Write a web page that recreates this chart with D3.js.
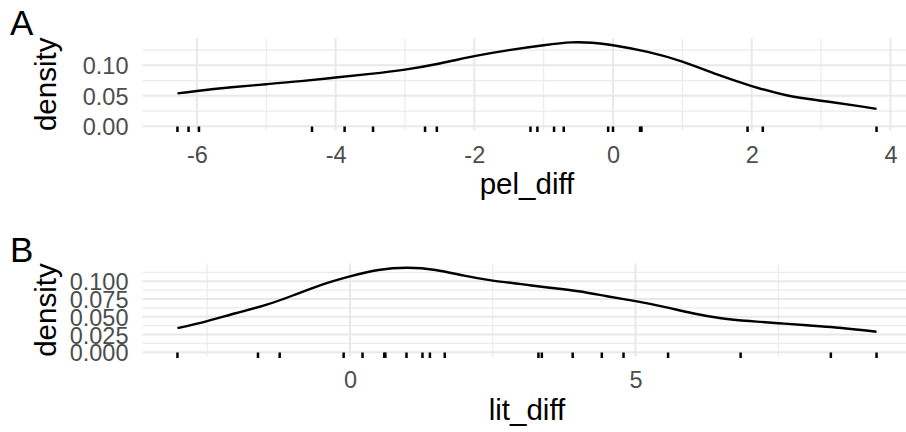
<!DOCTYPE html>
<html>
<head>
<meta charset="utf-8">
<script src="https://cdn.jsdelivr.net/npm/d3@7"></script>
<style>
  html, body { margin: 0; padding: 0; background: #fff; }
  svg { display: block; }
  text { font-family: "Liberation Sans", Arial, sans-serif; }
</style>
</head>
<body>
<svg id="chart" width="906" height="432"></svg>
<script>
// ---- Data ----
const pelRug = [-6.28, -6.12, -5.97, -4.34, -3.87, -3.46, -2.71, -2.54, -1.19, -1.09, -0.85, -0.71, -0.07, 0.00, 0.39, 0.41, 1.94, 2.16, 3.80];
const pelDensX = [-6.28, -6, -5.5, -5, -4.5, -4, -3.5, -3, -2.5, -2, -1.5, -1, -0.6, -0.3, 0, 0.5, 1, 1.5, 2, 2.5, 3, 3.5, 3.80];
const pelDensY = [0.054, 0.058, 0.064, 0.069, 0.074, 0.080, 0.086, 0.093, 0.103, 0.115, 0.125, 0.133, 0.1376, 0.137, 0.133, 0.122, 0.106, 0.085, 0.066, 0.051, 0.042, 0.034, 0.0285];
const pelXTicks = [-6, -4, -2, 0, 2, 4];
const pelXMinor = [-5, -3, -1, 1, 3];
const pelYTicks = [0, 0.05, 0.10];
const pelYMinor = [0.025, 0.075, 0.125];

const litRug = [-3.02, -1.61, -1.23, -0.11, 0.22, 0.60, 0.62, 0.99, 1.27, 1.40, 1.66, 3.30, 3.36, 3.90, 4.41, 4.79, 5.57, 6.84, 8.42, 9.22];
const litDensX = [-3.02, -2.5, -2, -1.5, -1, -0.5, 0, 0.5, 1, 1.5, 2, 2.5, 3, 3.5, 4, 4.5, 5, 5.5, 6, 6.5, 7, 7.5, 8, 8.5, 9, 9.22];
const litDensY = [0.034, 0.044, 0.055, 0.066, 0.080, 0.095, 0.107, 0.116, 0.119, 0.116, 0.108, 0.101, 0.096, 0.091, 0.086, 0.079, 0.072, 0.064, 0.055, 0.048, 0.044, 0.041, 0.038, 0.035, 0.031, 0.029];
const litXTicks = [0, 5];
const litXMinor = [-2.5, 2.5, 7.5];
const litYTicks = [0, 0.025, 0.05, 0.075, 0.100];
const litYMinor = [0.0125, 0.0375, 0.0625, 0.0875, 0.1125];

const svg = d3.select("#chart");

function drawPanel(cfg) {
  const g = svg.append("g");
  const ext = d3.extent(cfg.rug);
  const pad = (ext[1] - ext[0]) * 0.05;
  const x = d3.scaleLinear().domain([ext[0] - pad, ext[1] + pad]).range([142.5, 911.5]);
  const ymax = d3.max(cfg.densY);
  const y = d3.scaleLinear().domain([-ymax * 0.05, ymax * 1.05]).range([cfg.bottom, cfg.top]);
  const [x0, x1] = x.range();

  const grid = g.append("g");
  // minor grid
  cfg.yMinor.forEach(v => grid.append("line").attr("x1", x0).attr("x2", x1).attr("y1", y(v)).attr("y2", y(v))
    .attr("stroke", "#EBEBEB").attr("stroke-width", 1.2));
  cfg.xMinor.forEach(v => grid.append("line").attr("x1", x(v)).attr("x2", x(v)).attr("y1", cfg.top).attr("y2", cfg.bottom)
    .attr("stroke", "#EBEBEB").attr("stroke-width", 1.2));
  // major grid
  cfg.yTicks.forEach(v => grid.append("line").attr("x1", x0).attr("x2", x1).attr("y1", y(v)).attr("y2", y(v))
    .attr("stroke", "#E8E8E8").attr("stroke-width", 2));
  cfg.xTicks.forEach(v => grid.append("line").attr("x1", x(v)).attr("x2", x(v)).attr("y1", cfg.top).attr("y2", cfg.bottom)
    .attr("stroke", "#E8E8E8").attr("stroke-width", 2));

  // density curve
  const pts = cfg.densX.map((d, i) => [d, cfg.densY[i]]);
  const line = d3.line().x(d => x(d[0])).y(d => y(d[1])).curve(d3.curveNatural);
  g.append("path").datum(pts).attr("d", line).attr("fill", "none").attr("stroke", "#000").attr("stroke-width", 2.4);

  // rug
  g.append("g").selectAll("line").data(cfg.rug).join("line")
    .attr("x1", d => x(d)).attr("x2", d => x(d))
    .attr("y1", cfg.bottom + 1.5).attr("y2", cfg.bottom - 4)
    .attr("stroke", "#000").attr("stroke-width", 2.5);

  // x axis labels
  const xa = d3.axisBottom(x).tickValues(cfg.xTicks).tickSize(0).tickFormat(d3.format(cfg.xFmt));
  const xg = g.append("g").attr("transform", `translate(0,${cfg.xLabelY})`).call(xa);
  xg.select(".domain").remove();
  xg.selectAll("text").attr("dy", null).attr("y", 0)
    .attr("fill", "#4D4D4D").attr("font-size", "23.5px")
    .text(d => d3.format(cfg.xFmt)(d).replace("\u2212", "-"));

  // y axis labels
  const ya = d3.axisLeft(y).tickValues(cfg.yTicks).tickSize(0).tickFormat(d3.format(cfg.yFmt));
  const yg = g.append("g").attr("transform", `translate(128.5,0)`).call(ya);
  yg.select(".domain").remove();
  yg.selectAll("text").attr("x", 0).attr("dy", "0.36em")
    .attr("fill", "#4D4D4D").attr("font-size", "23.5px").attr("text-anchor", "end");

  // axis titles
  g.append("text").attr("x", (x0 + x1) / 2).attr("y", cfg.xTitleY).attr("text-anchor", "middle")
    .attr("font-size", "29.5px").attr("fill", "#000").text(cfg.xTitle);
  g.append("text").attr("transform", `translate(56,${(cfg.top + cfg.bottom) / 2}) rotate(-90)`)
    .attr("text-anchor", "middle").attr("font-size", "29.5px").attr("fill", "#000").text("density");

  // tag
  g.append("text").attr("x", 10).attr("y", cfg.tagY).attr("font-size", "35px").attr("fill", "#000").text(cfg.tag);
}

drawPanel({
  rug: pelRug, densX: pelDensX, densY: pelDensY,
  xTicks: pelXTicks, xMinor: pelXMinor, yTicks: pelYTicks, yMinor: pelYMinor,
  top: 38.2, bottom: 130.5, xLabelY: 163, xTitleY: 194, xTitle: "pel_diff",
  xFmt: "d", yFmt: ".2f", tag: "A", tagY: 35
});
drawPanel({
  rug: litRug, densX: litDensX, densY: litDensY,
  xTicks: litXTicks, xMinor: litXMinor, yTicks: litYTicks, yMinor: litYMinor,
  top: 263.6, bottom: 356.5, xLabelY: 388, xTitleY: 420, xTitle: "lit_diff",
  xFmt: "d", yFmt: ".3f", tag: "B", tagY: 262
});
</script>
</body>
</html>
